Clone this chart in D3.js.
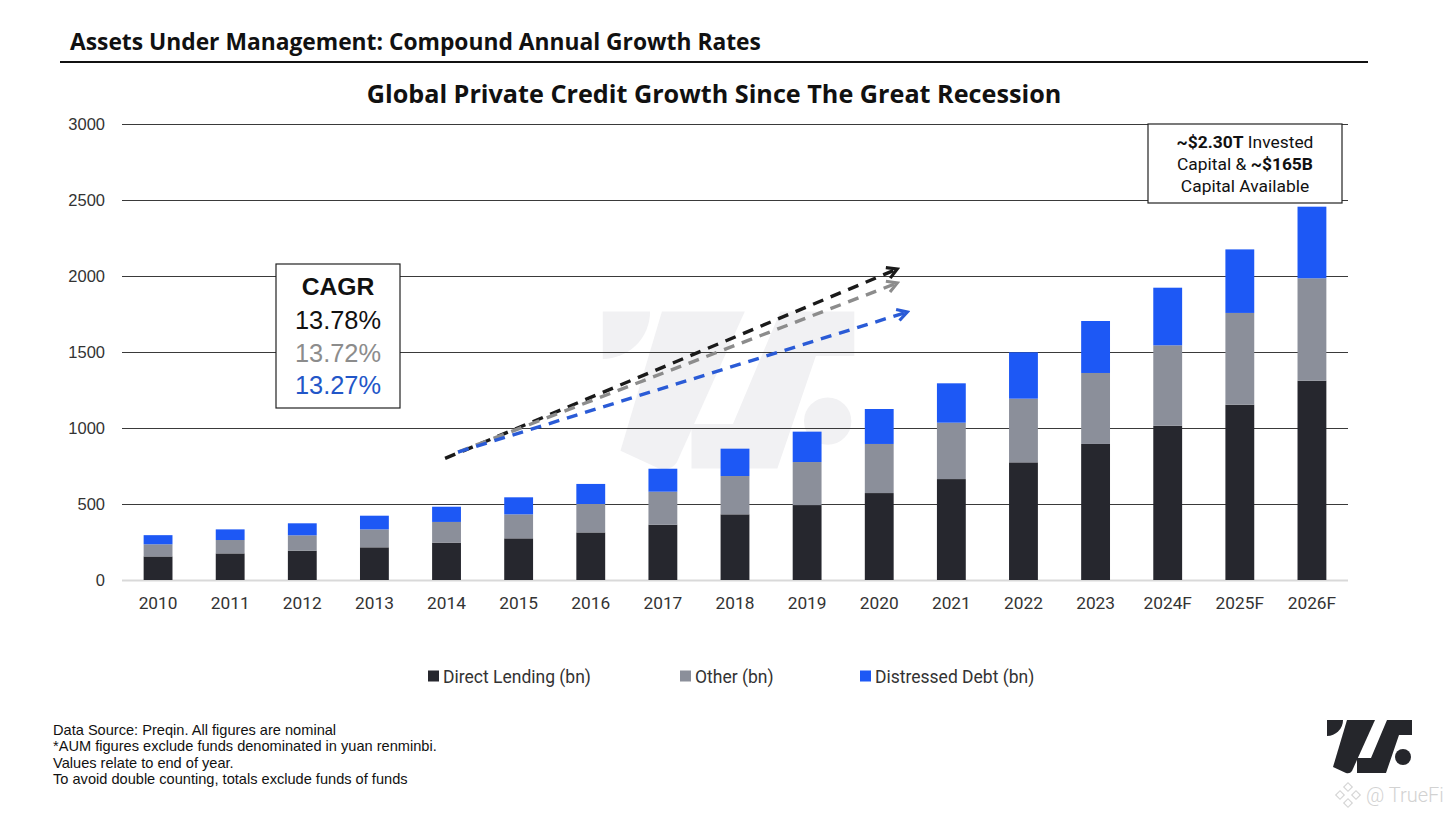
<!DOCTYPE html>
<html>
<head>
<meta charset="utf-8">
<script src="https://cdn.jsdelivr.net/npm/d3@7"></script>
<style>
  html, body { margin: 0; padding: 0; background: #fff; }
  svg { display: block; }
</style>
</head>
<body>
<svg id="chart"></svg>
<script>
// Data (bn USD)
const years = ['2010', '2011', '2012', '2013', '2014', '2015', '2016', '2017', '2018',
  '2019', '2020', '2021', '2022', '2023', '2024F', '2025F', '2026F'];
const directLending = [155, 175, 193, 215, 246, 274, 313, 364, 432, 493, 572, 664, 774, 895, 1015, 1153, 1311];
const other = [80, 88, 101, 118, 136, 158, 187, 217, 252, 283, 323, 371, 419, 467, 529, 604, 674];
const distressedDebt = [60, 70, 79, 90, 100, 112, 132, 151, 180, 200, 230, 259, 305, 342, 379, 418, 471];

const seriesNames = ['Direct Lending (bn)', 'Other (bn)', 'Distressed Debt (bn)'];
const yTicks = [0, 500, 1000, 1500, 2000, 2500, 3000];

const cagrLabels = ['13.78%', '13.72%', '13.27%'];
// trend arrows: [start index, start value, end index, end value]
const trendArrows = [
  [3.98, 800, 10.25, 2046],
  [4.16, 842, 10.25, 1954],
  [4.16, 842, 10.39, 1763]
];

const footnotes = [
  'Data Source: Preqin. All figures are nominal',
  '*AUM figures exclude funds denominated in yuan renminbi.',
  'Values relate to end of year.',
  'To avoid double counting, totals exclude funds of funds'
];

const W = 1456, H = 819;
const colors = ['#26272e', '#8b8f9a', '#1d58f5'];
const textColors = ['#111111', '#8c8c8c', '#2256c8'];
const arrowColors = ['#1a1a1a', '#8c8c8c', '#2a5bd6'];

const svg = d3.select('#chart').attr('width', W).attr('height', H);

// logo shape (local units), reused for the watermark and the corner logo
const logoParts = [
  'M7,10 H23 A16,16 0 0 1 7,26 Z',
  'M27,10 H55 L32,61 Q30,64 26,63 L13,57 Z',
  'M67,10 H92 V25 H79 L66,63 H37 V48 H51 Z'
];
function drawLogo(g, fill) {
  logoParts.forEach(p => g.append('path').attr('d', p).attr('fill', fill));
  g.append('circle').attr('cx', 83).attr('cy', 47).attr('r', 8).attr('fill', fill);
}

// headings
svg.append('text')
  .attr('x', 70).attr('y', 50)
  .attr('font-family', 'Open Sans, sans-serif')
  .attr('font-weight', 700)
  .attr('font-size', 22.8)
  .attr('fill', '#111')
  .text('Assets Under Management: Compound Annual Growth Rates');

svg.append('line')
  .attr('x1', 60).attr('x2', 1368)
  .attr('y1', 62).attr('y2', 62)
  .attr('stroke', '#111').attr('stroke-width', 2);

svg.append('text')
  .attr('x', 714).attr('y', 103)
  .attr('text-anchor', 'middle')
  .attr('font-family', 'Open Sans, sans-serif')
  .attr('font-weight', 700)
  .attr('font-size', 25.2)
  .attr('fill', '#111')
  .text('Global Private Credit Growth Since The Great Recession');

// scales
const x = d3.scaleBand()
  .domain(years)
  .range([122, 1348])
  .paddingInner(0.6)
  .paddingOuter(0.3);

const y = d3.scaleLinear()
  .domain([0, 3000])
  .range([580, 124]);

// index scale for the trend arrows (centre of band i)
const xi = d3.scaleLinear()
  .domain([0, 1])
  .range([x(years[0]) + x.bandwidth() / 2, x(years[1]) + x.bandwidth() / 2]);

// watermark behind the plot
drawLogo(svg.append('g').attr('transform', 'translate(582,282) scale(2.96)'), '#f1f1f3');

// gridlines + y labels
const yAxis = d3.axisLeft(y)
  .tickValues(yTicks)
  .tickFormat(d3.format('d'))
  .tickSize(-(1348 - 122))
  .tickPadding(17);

const yAxisG = svg.append('g')
  .attr('transform', 'translate(122,0)')
  .call(yAxis);
yAxisG.select('.domain').remove();
yAxisG.selectAll('.tick line')
  .attr('stroke', d => d === 0 ? '#d9d9d9' : '#3a3a3a')
  .attr('stroke-width', d => d === 0 ? 2 : 1);
yAxisG.selectAll('.tick text')
  .attr('font-family', 'Liberation Sans, Arial, sans-serif')
  .attr('font-size', 16.5)
  .attr('fill', '#333');

// stacked bars
const tableRows = years.map((yr, i) => ({
  year: yr, dl: directLending[i], other: other[i], dd: distressedDebt[i]
}));
const stack = d3.stack().keys(['dl', 'other', 'dd']);
const layers = stack(tableRows);

svg.append('g')
  .selectAll('g')
  .data(layers)
  .join('g')
  .attr('fill', (d, i) => colors[i])
  .selectAll('rect')
  .data(d => d)
  .join('rect')
  .attr('x', d => x(d.data.year))
  .attr('width', x.bandwidth())
  .attr('y', d => y(d[1]))
  .attr('height', d => y(d[0]) - y(d[1]));

// x axis labels
const xAxis = d3.axisBottom(x).tickSize(0).tickPadding(17);
const xAxisG = svg.append('g')
  .attr('transform', 'translate(0,580)')
  .call(xAxis);
xAxisG.select('.domain').remove();
xAxisG.selectAll('.tick text')
  .attr('font-family', 'Roboto, sans-serif')
  .attr('font-size', 17.3)
  .attr('fill', '#333');

// trend arrows
const defs = svg.append('defs');
arrowColors.forEach((c, i) => {
  defs.append('marker')
    .attr('id', 'head' + i)
    .attr('viewBox', '0 0 10 10')
    .attr('refX', 8).attr('refY', 5)
    .attr('markerWidth', 4.2).attr('markerHeight', 4.2)
    .attr('orient', 'auto')
    .append('path')
    .attr('d', 'M1,1 L8,5 L1,9')
    .attr('fill', 'none')
    .attr('stroke', c)
    .attr('stroke-width', 2.2);
});

svg.append('g')
  .selectAll('line')
  .data(trendArrows)
  .join('line')
  .attr('x1', d => xi(d[0])).attr('y1', d => y(d[1]))
  .attr('x2', d => xi(d[2])).attr('y2', d => y(d[3]))
  .attr('stroke', (d, i) => arrowColors[i])
  .attr('stroke-width', 3.4)
  .attr('stroke-dasharray', '11,8')
  .attr('marker-end', (d, i) => `url(#head${i})`);

// CAGR box
const cagr = svg.append('g').attr('transform', 'translate(276,264)');
cagr.append('rect')
  .attr('width', 124).attr('height', 144)
  .attr('fill', '#fff').attr('stroke', '#222').attr('stroke-width', 1.2);
cagr.append('text')
  .attr('x', 62).attr('y', 31)
  .attr('text-anchor', 'middle')
  .attr('font-family', 'Liberation Sans, Arial, sans-serif')
  .attr('font-weight', 700)
  .attr('font-size', 24.7)
  .attr('fill', '#111')
  .text('CAGR');
cagr.selectAll('.pct')
  .data(cagrLabels)
  .join('text')
  .attr('class', 'pct')
  .attr('x', 62)
  .attr('y', (d, i) => 65 + i * 32.5)
  .attr('text-anchor', 'middle')
  .attr('font-family', 'Liberation Sans, Arial, sans-serif')
  .attr('font-size', 25.4)
  .attr('fill', (d, i) => textColors[i])
  .text(d => d);

// invested capital note
const note = svg.append('g').attr('transform', 'translate(1148,124)');
note.append('rect')
  .attr('width', 194).attr('height', 79)
  .attr('fill', '#fff').attr('stroke', '#222').attr('stroke-width', 1.2);
const noteLines = [
  [['~$2.30T', 700], [' Invested', 400]],
  [['Capital & ', 400], ['~$165B', 700]],
  [['Capital Available', 400]]
];
noteLines.forEach((parts, i) => {
  const t = note.append('text')
    .attr('x', 97).attr('y', 24 + i * 22)
    .attr('text-anchor', 'middle')
    .attr('font-family', 'Roboto, sans-serif')
    .attr('font-size', 17.4)
    .attr('fill', '#111');
  parts.forEach(p => t.append('tspan').attr('font-weight', p[1]).text(p[0]));
});

// legend
const legendX = [428, 680, 860];
const legend = svg.append('g')
  .selectAll('g')
  .data(seriesNames)
  .join('g')
  .attr('transform', (d, i) => `translate(${legendX[i]},676)`);
legend.append('rect')
  .attr('x', 0).attr('y', -5.5)
  .attr('width', 11).attr('height', 11)
  .attr('fill', (d, i) => colors[i]);
legend.append('text')
  .attr('x', 15).attr('y', 6.5)
  .attr('font-family', 'Roboto, sans-serif')
  .attr('font-size', 17.5)
  .attr('fill', '#333')
  .text(d => d);

// footnotes
svg.append('g')
  .selectAll('text')
  .data(footnotes)
  .join('text')
  .attr('x', 53)
  .attr('y', (d, i) => 735 + i * 16.4)
  .attr('font-family', 'Liberation Sans, Arial, sans-serif')
  .attr('font-size', 14.6)
  .attr('fill', '#111')
  .text(d => d);

// corner logo
drawLogo(svg.append('g').attr('transform', 'translate(1320,710)'), '#25262b');

// @TrueFi watermark
const wm = svg.append('g').attr('transform', 'translate(1348,795)');
[[-8, 0], [0, -8], [8, 0], [0, 8]].forEach(p => {
  wm.append('rect')
    .attr('x', p[0] - 3).attr('y', p[1] - 3)
    .attr('width', 6).attr('height', 6)
    .attr('transform', `rotate(45,${p[0]},${p[1]})`)
    .attr('fill', 'none').attr('stroke', '#d6d6d6').attr('stroke-width', 1.2);
});
wm.append('text')
  .attr('x', 18).attr('y', 7)
  .attr('font-family', 'Roboto, sans-serif')
  .attr('font-weight', 300)
  .attr('font-size', 20)
  .attr('fill', '#d2d2d2')
  .text('@ TrueFi');
</script>
</body>
</html>
